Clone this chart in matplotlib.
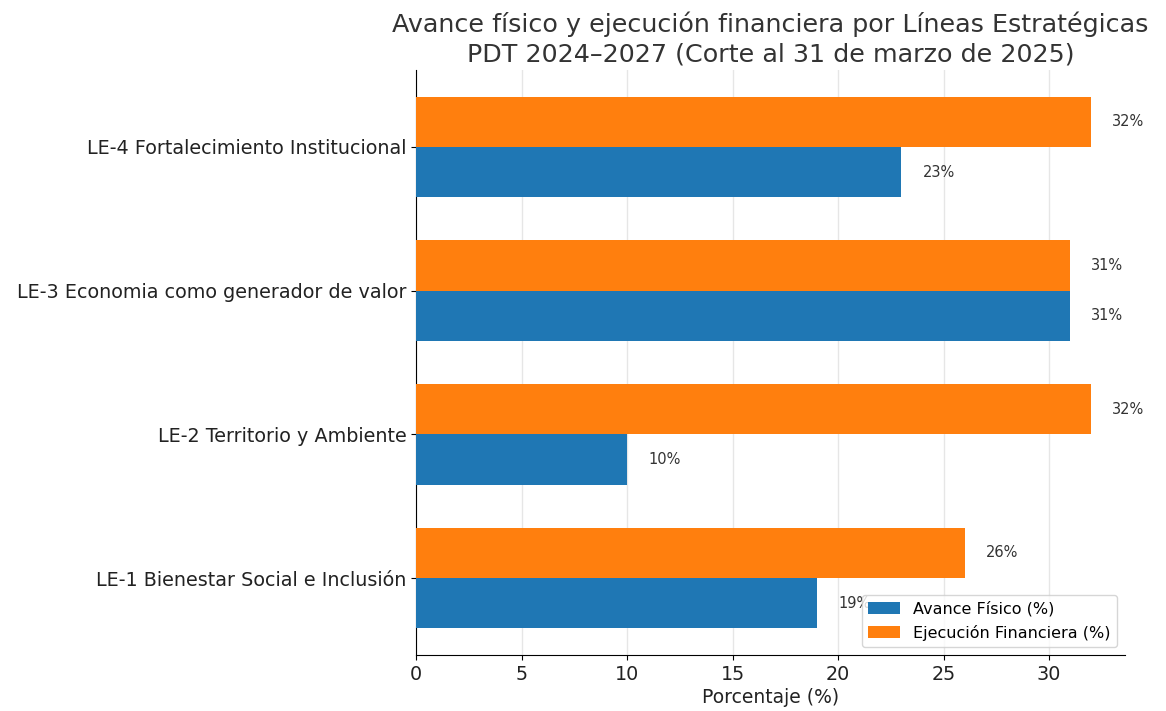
import matplotlib
matplotlib.use("Agg")
import matplotlib.pyplot as plt
import numpy as np

categories = ["LE-1 Bienestar Social e Inclusión",
              "LE-2 Territorio y Ambiente",
              "LE-3 Economia como generador de valor",
              "LE-4 Fortalecimiento Institucional"]
avance_fisico = [19, 10, 31, 23]
ejecucion_financiera = [26, 32, 31, 32]
xticks = [0, 5, 10, 15, 20, 25, 30]

fig = plt.figure(figsize=(11.66, 7.11), dpi=100)
ax = fig.add_axes([416/1166, 1-655/711, (1125-416)/1166, (655-70)/711])

y = np.arange(len(categories))
h = 0.35
ax.barh(y - h/2, avance_fisico, height=h, color="#1f77b4", label="Avance Físico (%)", zorder=3)
ax.barh(y + h/2, ejecucion_financiera, height=h, color="#ff7f0e", label="Ejecución Financiera (%)", zorder=3)

for yy, v in zip(y - h/2, avance_fisico):
    ax.text(v + 1, yy, f"{v}%", va="center", ha="left", fontsize=10.5, color="#333333", zorder=2)
for yy, v in zip(y + h/2, ejecucion_financiera):
    ax.text(v + 1, yy, f"{v}%", va="center", ha="left", fontsize=10.5, color="#333333", zorder=2)

ax.set_yticks(y)
ax.set_yticklabels(categories, fontsize=13.8, color="#222222")
ax.set_xticks(xticks)
ax.set_xticklabels([str(t) for t in xticks], fontsize=13.8, color="#222222")
ax.set_xlabel("Porcentaje (%)", fontsize=13.5, color="#222222", labelpad=3)
ax.set_title("Avance físico y ejecución financiera por Líneas Estratégicas\nPDT 2024–2027 (Corte al 31 de marzo de 2025)",
             fontsize=18.3, color="#333333", pad=6, linespacing=1.3)
ax.grid(axis="x", color="#e6e6e6", linewidth=1, zorder=0)
ax.spines["top"].set_visible(False)
ax.spines["right"].set_visible(False)
leg = ax.legend(loc="lower right", fontsize=11.5, frameon=True)
leg.set_zorder(5)

fig.savefig("out.png", dpi=100)
